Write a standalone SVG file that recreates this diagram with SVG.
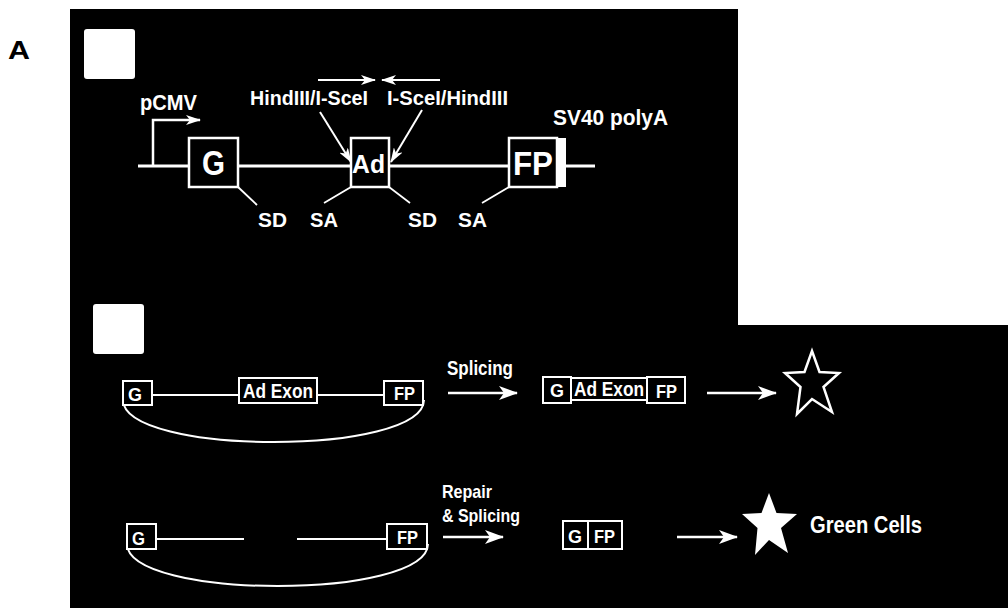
<svg xmlns="http://www.w3.org/2000/svg" width="1008" height="608" viewBox="0 0 1008 608">
<defs>
<style>
.t{font-family:"Liberation Sans",Arial,sans-serif;font-weight:bold;fill:#fff}
.ln{stroke:#fff;fill:none}
.bx{stroke:#fff;fill:#000}
</style>
<marker id="ah" viewBox="0 0 19 14" refX="18" refY="7" markerWidth="19" markerHeight="14" markerUnits="userSpaceOnUse" orient="auto">
<path d="M0,0 L19,7 L0,14 L5,7 Z" fill="#fff"/>
</marker>
<marker id="ah2" viewBox="0 0 15 10" refX="14" refY="5" markerWidth="15" markerHeight="10" markerUnits="userSpaceOnUse" orient="auto">
<path d="M0,0 L15,5 L0,10 L4,5 Z" fill="#fff"/>
</marker>
</defs>
<rect width="1008" height="608" fill="#fff"/>
<path d="M70,9 H738 V325 H1008 V608 H70 Z" fill="#000"/>
<text class="t" x="8" y="59" font-size="25" style="fill:#000" textLength="22" lengthAdjust="spacingAndGlyphs">A</text>
<rect x="84" y="29" width="51" height="50" rx="3" fill="#fff"/>
<rect x="93" y="304" width="51" height="50" rx="3" fill="#fff"/>

<g id="connectors">
<line class="ln" x1="138" y1="166" x2="595" y2="166" stroke-width="3"/>
<path class="ln" d="M153,166 V120 H200" stroke-width="2.5" marker-end="url(#ah2)"/>
<line class="ln" x1="318" y1="80" x2="375" y2="80" stroke-width="2" marker-end="url(#ah2)"/>
<line class="ln" x1="440" y1="80" x2="382" y2="80" stroke-width="2" marker-end="url(#ah2)"/>
<line class="ln" x1="320" y1="112" x2="351" y2="162" stroke-width="2" marker-end="url(#ah2)"/>
<line class="ln" x1="422" y1="110" x2="391" y2="162" stroke-width="2" marker-end="url(#ah2)"/>
<line class="ln" x1="238" y1="187" x2="257" y2="205" stroke-width="1.8"/>
<line class="ln" x1="351" y1="187" x2="324" y2="203" stroke-width="1.8"/>
<line class="ln" x1="389" y1="187" x2="410" y2="203" stroke-width="1.8"/>
<line class="ln" x1="509" y1="187" x2="482" y2="203" stroke-width="1.8"/>
<line class="ln" x1="152" y1="395" x2="384" y2="395" stroke-width="2"/>
<path class="ln" d="M123,400 C124,456 423,456 424,400" stroke-width="2"/>
<line class="ln" x1="448" y1="393" x2="517" y2="393" stroke-width="2.5" marker-end="url(#ah)"/>
<line class="ln" x1="707" y1="393" x2="776" y2="393" stroke-width="2.5" marker-end="url(#ah)"/>
<line class="ln" x1="156" y1="539" x2="244" y2="539" stroke-width="2"/>
<line class="ln" x1="297" y1="539" x2="387" y2="539" stroke-width="2"/>
<path class="ln" d="M127,544 C128,600 427,600 428,544" stroke-width="2"/>
<line class="ln" x1="443" y1="537" x2="503" y2="537" stroke-width="2.5" marker-end="url(#ah)"/>
<line class="ln" x1="677" y1="537" x2="737" y2="537" stroke-width="2.5" marker-end="url(#ah)"/>
</g>

<g id="labels-top">
<text class="t" x="140" y="110" font-size="22" textLength="57" lengthAdjust="spacingAndGlyphs">pCMV</text>
<text class="t" x="250" y="105" font-size="21" textLength="118" lengthAdjust="spacingAndGlyphs">HindIII/I-SceI</text>
<text class="t" x="387" y="105" font-size="21" textLength="121" lengthAdjust="spacingAndGlyphs">I-SceI/HindIII</text>
<text class="t" x="553" y="125" font-size="22" textLength="115" lengthAdjust="spacingAndGlyphs">SV40 polyA</text>
<text class="t" x="258" y="227" font-size="21" textLength="29" lengthAdjust="spacingAndGlyphs">SD</text>
<text class="t" x="310" y="227" font-size="21" textLength="28" lengthAdjust="spacingAndGlyphs">SA</text>
<text class="t" x="408" y="227" font-size="21" textLength="29" lengthAdjust="spacingAndGlyphs">SD</text>
<text class="t" x="458" y="227" font-size="21" textLength="29" lengthAdjust="spacingAndGlyphs">SA</text>
</g>

<g id="node-G">
<rect class="bx" x="189" y="138" width="49" height="49" stroke-width="2.5"/>
<text class="t" x="202" y="175" font-size="35" textLength="23" lengthAdjust="spacingAndGlyphs">G</text>
</g>
<g id="node-Ad">
<rect class="bx" x="351" y="138" width="38" height="49" stroke-width="2.5"/>
<text class="t" x="352" y="173" font-size="25" textLength="33" lengthAdjust="spacingAndGlyphs">Ad</text>
</g>
<g id="node-FP">
<rect class="bx" x="509" y="138" width="48" height="49" stroke-width="2.5"/>
<rect x="557" y="138" width="9" height="49" fill="#fff"/>
<text class="t" x="513" y="175" font-size="34" textLength="40" lengthAdjust="spacingAndGlyphs">FP</text>
</g>

<g id="row1-precursor">
<rect class="bx" x="123" y="381" width="29" height="24" stroke-width="2"/>
<text class="t" x="128" y="401" font-size="19" textLength="14" lengthAdjust="spacingAndGlyphs">G</text>
<rect class="bx" x="239" y="378" width="78" height="25" stroke-width="2"/>
<text class="t" x="243" y="398" font-size="20" textLength="70" lengthAdjust="spacingAndGlyphs">Ad Exon</text>
<rect class="bx" x="384" y="381" width="39" height="24" stroke-width="2"/>
<text class="t" x="394" y="400" font-size="19" textLength="21" lengthAdjust="spacingAndGlyphs">FP</text>
</g>
<text class="t" x="447" y="375" font-size="20" textLength="66" lengthAdjust="spacingAndGlyphs">Splicing</text>
<g id="row1-product">
<rect class="bx" x="543" y="377" width="28" height="26" stroke-width="2"/>
<text class="t" x="550" y="397" font-size="19" textLength="14" lengthAdjust="spacingAndGlyphs">G</text>
<rect class="bx" x="571" y="378" width="76" height="22" stroke-width="2"/>
<text class="t" x="574" y="396" font-size="20" textLength="70" lengthAdjust="spacingAndGlyphs">Ad Exon</text>
<rect class="bx" x="647" y="377" width="38" height="26" stroke-width="2"/>
<text class="t" x="656" y="398" font-size="19" textLength="21" lengthAdjust="spacingAndGlyphs">FP</text>
</g>
<g id="star-outline">
<polygon points="812,351 819.5,372 839,373 823.5,387 832,412 812,399 797,414 800.5,387 785,373 804.5,372" fill="none" stroke="#fff" stroke-width="2.5" stroke-linejoin="miter"/>
</g>

<g id="row2-precursor">
<rect class="bx" x="127" y="524" width="29" height="25" stroke-width="2"/>
<text class="t" x="132" y="545" font-size="18" textLength="13" lengthAdjust="spacingAndGlyphs">G</text>
<rect class="bx" x="387" y="524" width="40" height="25" stroke-width="2"/>
<text class="t" x="397" y="544" font-size="19" textLength="21" lengthAdjust="spacingAndGlyphs">FP</text>
</g>
<text class="t" x="442" y="498" font-size="19" textLength="50" lengthAdjust="spacingAndGlyphs">Repair</text>
<text class="t" x="442" y="522" font-size="19" textLength="78" lengthAdjust="spacingAndGlyphs">&amp; Splicing</text>
<g id="row2-product">
<rect class="bx" x="563" y="521" width="59" height="28" stroke-width="2"/>
<line class="ln" x1="588" y1="521" x2="588" y2="549" stroke-width="2"/>
<text class="t" x="568" y="543" font-size="19" textLength="14" lengthAdjust="spacingAndGlyphs">G</text>
<text class="t" x="594" y="543" font-size="19" textLength="21" lengthAdjust="spacingAndGlyphs">FP</text>
</g>
<g id="star-filled">
<polygon points="769,493 776.5,513 797,514 781,528 788,553 769,540 755,555 757.5,528 742,514 761.5,513" fill="#fff"/>
</g>
<text class="t" x="810" y="533" font-size="23" textLength="112" lengthAdjust="spacingAndGlyphs">Green Cells</text>
</svg>
